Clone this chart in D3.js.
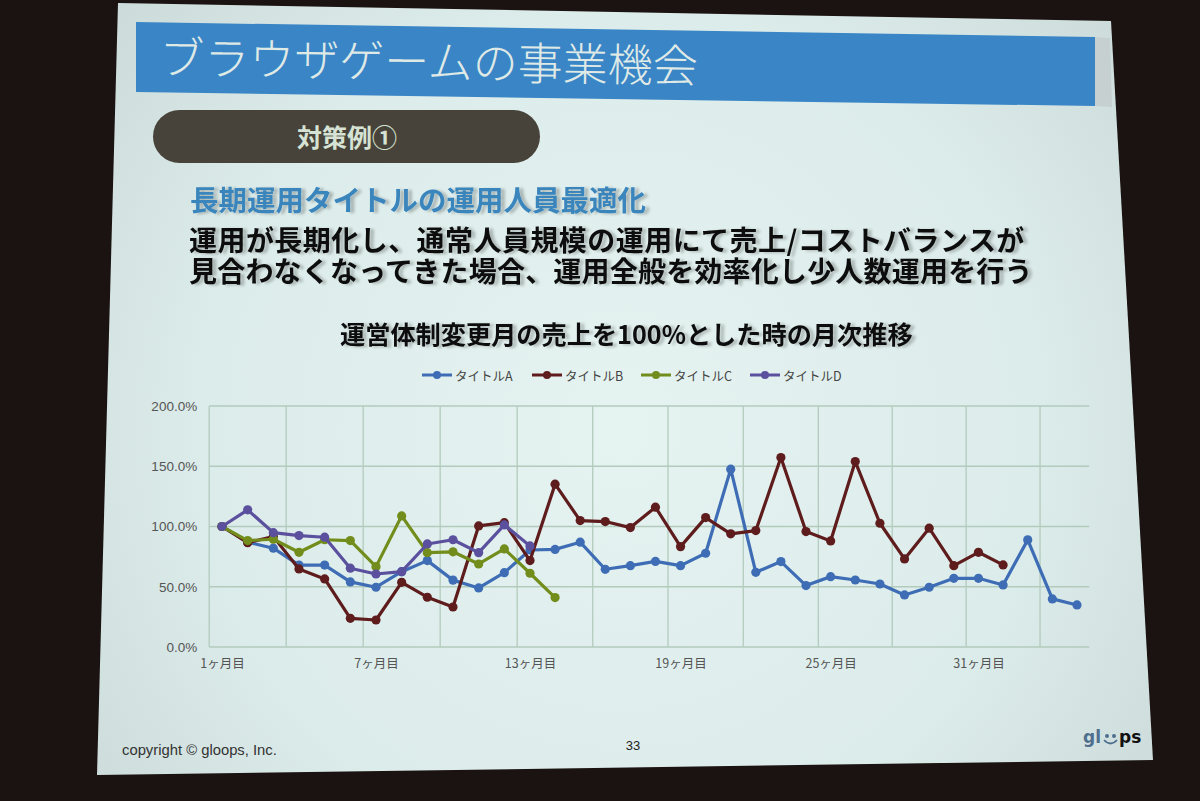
<!DOCTYPE html>
<html><head><meta charset="utf-8">
<script src="https://cdn.jsdelivr.net/npm/d3@7/dist/d3.min.js"></script>
<style>html,body{margin:0;padding:0;background:#1a1311;overflow:hidden}svg{display:block}</style>
</head><body>
<script>
// ---- data ----
const months = [1,2,3,4,5,6,7,8,9,10,11,12,13,14,15,16,17,18,19,20,21,22,23,24,25,26,27,28,29,30,31,32,33,34,35];
const tickMonths = [1,7,13,19,25,31];
const tickLabels = ["1ヶ月目","7ヶ月目","13ヶ月目","19ヶ月目","25ヶ月目","31ヶ月目"];
const yTicks = [0,50,100,150,200];
const yTickLabels = ["0.0%","50.0%","100.0%","150.0%","200.0%"];
const seriesNames = ["タイトルA","タイトルB","タイトルC","タイトルD"];
const seriesColors = ["#3e6db5","#5e1c1c","#728d1b","#5b509e"];
const titleA = [100,87,82,68,68,54,49.6,62.5,71.7,55.5,49,61.7,80.5,81,87,64.5,67.5,71,67.5,77.8,147.6,62,70.9,51,58.4,55.6,52.3,43.2,49.6,57,57,51.5,88.9,39.9,34.9];
const titleB = [100,86.6,91.6,64.8,56.5,23.8,22.4,53.7,41.3,33.2,100.5,103.2,71.7,135.1,104.9,104.1,99.1,116,83.3,107.4,93.9,96.6,157.2,95.8,88,153.9,102.7,73.1,98.6,67.5,78.6,68.1];
const titleC = [100,88.3,89.4,78.6,89,88.3,66.7,108.8,78.3,79,68.9,81.4,61.2,41];
const titleD = [100,113.8,94.9,92.5,91.1,65.4,60.6,62.5,85.5,89,78.3,101.3,83.9];
const seriesValues = [titleA,titleB,titleC,titleD];

const slideTitle = "ブラウザゲームの事業機会";
const pillText = "対策例①";
const heading = "長期運用タイトルの運用人員最適化";
const bodyLines = ["運用が長期化し、通常人員規模の運用にて売上/コストバランスが","見合わなくなってきた場合、運用全般を効率化し少人数運用を行う"];
const chartTitle = "運営体制変更月の売上を100%とした時の月次推移";

const W = 1200, H = 801;
const JP = "'Noto Sans CJK JP','Noto Sans',sans-serif";
const svg = d3.select("body").append("svg").attr("width", W).attr("height", H);
const defs = svg.append("defs");
const rg = defs.append("radialGradient").attr("id","slideBg").attr("gradientUnits","userSpaceOnUse")
  .attr("cx",620).attr("cy",430).attr("r",700);
rg.append("stop").attr("offset","0").attr("stop-color","#e5f3f1");
rg.append("stop").attr("offset","0.6").attr("stop-color","#dcecea");
rg.append("stop").attr("offset","1").attr("stop-color","#c9d8d7");
const ghost = defs.append("filter").attr("id","ghost").attr("x","-5%").attr("y","-20%").attr("width","115%").attr("height","150%");
ghost.append("feGaussianBlur").attr("in","SourceAlpha").attr("stdDeviation",1.6).attr("result","b");
ghost.append("feOffset").attr("in","b").attr("dx",4).attr("dy",1).attr("result","o");
ghost.append("feComponentTransfer").attr("in","o").attr("result","t").append("feFuncA").attr("type","linear").attr("slope",0.25);
const gm = ghost.append("feMerge"); gm.append("feMergeNode").attr("in","t"); gm.append("feMergeNode").attr("in","SourceGraphic");

// background + slide
svg.append("rect").attr("width",W).attr("height",H).attr("fill","#1a1311");
svg.append("polygon").attr("points","118,3 1111,21 1153,760 97,775").attr("fill","url(#slideBg)");
// title bar shadow strip and bar
svg.append("polygon").attr("points","1095,37 1110,38 1112,107 1095,106").attr("fill","#c6d0d1");
svg.append("polygon").attr("points","136,22 1095,37 1095,106 136,92").attr("fill","#3985c6");
svg.append("text").attr("x",159).attr("y",74).attr("transform","rotate(0.9 159 74)")
  .attr("font-family",JP).attr("font-weight",300).attr("font-size",45)
  .attr("fill","#dfe9e6").text(slideTitle);

// pill
svg.append("rect").attr("x",153).attr("y",110).attr("width",387).attr("height",53).attr("rx",26.5)
  .attr("fill","#47433a");
svg.append("text").attr("x",347).attr("y",136).attr("text-anchor","middle").attr("dominant-baseline","central")
  .attr("font-family",JP).attr("font-weight",700).attr("font-size",25).attr("fill","#d6e2d3").text(pillText);

// headings
svg.append("text").attr("x",190).attr("y",211).attr("font-family",JP).attr("font-weight",700)
  .attr("font-size",28.5).attr("fill","#3b85bd").attr("filter","url(#ghost)").text(heading);
const body = svg.append("text").attr("font-family",JP).attr("font-weight",700)
  .attr("font-size",28).attr("fill","#111").attr("filter","url(#ghost)");
bodyLines.forEach((t,i)=>{
  body.append("tspan").attr("x",189).attr("y",251+i*31).attr("letter-spacing", i===0 ? 0.45 : 0.2).text(t);
});
svg.append("text").attr("x",340).attr("y",344).attr("font-family",JP).attr("font-weight",700)
  .attr("font-size",25.2).attr("fill","#111").attr("filter","url(#ghost)").text(chartTitle);

// chart
const x = d3.scaleLinear().domain([1,13,24,35]).range([222,530,806,1077]);
const y = d3.scaleLinear().domain([0,200]).range([647,406]);
const plotL = x(0.5), plotR = x(35.5);
const grid = svg.append("g").attr("stroke","#b3cbbd").attr("stroke-width",1.3);
yTicks.forEach(v=>grid.append("line").attr("x1",plotL).attr("x2",plotR).attr("y1",y(v)).attr("y2",y(v)));
months.filter(m=>(m-1)%3===0).forEach(m=>grid.append("line").attr("x1",x(m-0.5)).attr("x2",x(m-0.5)).attr("y1",y(200)).attr("y2",y(0)));

const yAxis = d3.axisLeft(y).tickValues(yTicks).tickFormat((d,i)=>yTickLabels[i]).tickSize(0).tickPadding(12);
const ya = svg.append("g").attr("transform",`translate(${plotL},0)`).call(yAxis);
ya.select(".domain").remove();
ya.selectAll("text").attr("font-family","'Liberation Sans',Arial,sans-serif").attr("font-size",13.5).attr("fill","#555");

const xAxis = d3.axisBottom(x).tickValues(tickMonths).tickFormat((d,i)=>tickLabels[i]).tickSize(0).tickPadding(12);
const xa = svg.append("g").attr("transform",`translate(0,${y(0)})`).call(xAxis);
xa.select(".domain").remove();
xa.selectAll("text").attr("font-family",JP).attr("font-size",12.5).attr("fill","#555");

const line = d3.line().x((d,i)=>x(months[i])).y(d=>y(d));
seriesValues.forEach((vals,si)=>{
  const g = svg.append("g");
  g.append("path").datum(vals).attr("d",line).attr("fill","none").attr("stroke",seriesColors[si])
    .attr("stroke-width",3.2).attr("stroke-linejoin","round");
  g.selectAll("circle").data(vals).join("circle").attr("cx",(d,i)=>x(months[i])).attr("cy",d=>y(d))
    .attr("r",4.6).attr("fill",seriesColors[si]);
});

// legend
const legendX = [422,532,641,750];
seriesNames.forEach((n,i)=>{
  const g = svg.append("g").attr("transform",`translate(${legendX[i]},375)`);
  g.append("line").attr("x1",0).attr("x2",30).attr("stroke",seriesColors[i]).attr("stroke-width",3);
  g.append("circle").attr("cx",15).attr("r",4).attr("fill",seriesColors[i]);
  g.append("text").attr("x",33).attr("dominant-baseline","central").attr("font-family",JP)
    .attr("font-size",12.5).attr("fill","#444").text(n);
});

// footer
svg.append("text").attr("x",122).attr("y",755).attr("font-family","'Liberation Sans',Arial,sans-serif")
  .attr("font-size",14.8).attr("fill","#333").text("copyright © gloops, Inc.");
svg.append("text").attr("x",633).attr("y",750).attr("text-anchor","middle").attr("font-family","'Liberation Sans',Arial,sans-serif")
  .attr("font-size",13).attr("fill","#222").text("33");
const logo = svg.append("g").attr("transform","translate(1083,743)");
logo.append("text").attr("x",0).attr("y",0).attr("font-family","'DejaVu Sans',sans-serif").attr("font-weight",700)
  .attr("font-size",17).attr("fill","#4f6f8f").text("gl");
logo.append("circle").attr("cx",24).attr("cy",-7).attr("r",2).attr("fill","#4f6f8f");
logo.append("circle").attr("cx",31).attr("cy",-7).attr("r",2).attr("fill","#4f6f8f");
logo.append("path").attr("d","M21,-3 Q27.5,4 34,-3").attr("fill","none").attr("stroke","#4f6f8f").attr("stroke-width",1.8);
logo.append("text").attr("x",36).attr("y",0).attr("font-family","'DejaVu Sans',sans-serif").attr("font-weight",700)
  .attr("font-size",17).attr("fill","#111").text("ps");
</script>
</body></html>
